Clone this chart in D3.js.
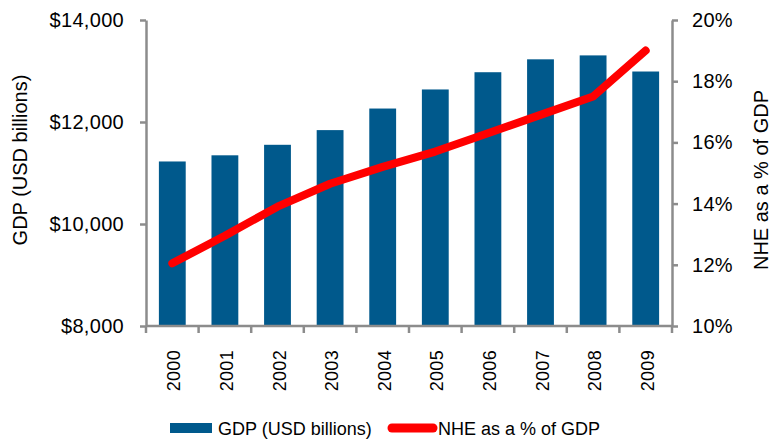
<!DOCTYPE html>
<html>
<head>
<meta charset="utf-8">
<script src="https://cdn.jsdelivr.net/npm/d3@7"></script>
<style>
  body { margin: 0; background: #fff; }
  text { font-family: "Liberation Sans", Arial, sans-serif; fill: #000; }
</style>
</head>
<body>
<svg id="chart" width="773" height="439"></svg>
<script>
// chart data
var years = ["2000", "2001", "2002", "2003", "2004", "2005", "2006", "2007", "2008", "2009"];
var gdp = [11226, 11347, 11553, 11841, 12264, 12638, 12976, 13229, 13306, 12990];
var nhePct = [12.05, 12.95, 13.9, 14.65, 15.2, 15.7, 16.3, 16.9, 17.5, 19.0];
var gdpTicks = [8000, 10000, 12000, 14000];
var pctTicks = [10, 12, 14, 16, 18, 20];
var legendLabels = ["GDP (USD billions)", "NHE as a % of GDP"];

var svg = d3.select("#chart"),
  margin = {top: 20, right: 101, bottom: 113, left: 146},
  width = +svg.attr("width") - margin.left - margin.right,
  height = +svg.attr("height") - margin.top - margin.bottom,
  g = svg.append("g").attr("transform", "translate(" + margin.left + "," + margin.top + ")");

var axisColor = "#8c8c8c",
  barColor = "#00598c",
  lineColor = "#ff0000";

var x = d3.scaleBand()
  .domain(years)
  .range([0, width])
  .paddingInner(0.49)
  .paddingOuter(0.245);

var y = d3.scaleLinear().domain([8000, 14000]).range([height, 0]);
var y2 = d3.scaleLinear().domain([10, 20]).range([height, 0]);

var data = years.map(function(d, i) { return {year: d, gdp: gdp[i], pct: nhePct[i]}; });

// bars
g.selectAll(".bar")
  .data(data)
  .enter().append("rect")
  .attr("class", "bar")
  .attr("x", function(d) { return x(d.year); })
  .attr("y", function(d) { return y(d.gdp); })
  .attr("width", x.bandwidth())
  .attr("height", function(d) { return height - y(d.gdp); })
  .attr("fill", barColor);

// left axis
var left = g.append("g")
  .call(d3.axisLeft(y)
    .tickValues(gdpTicks)
    .tickFormat(function(d) { return "$" + d3.format(",")(d); })
    .tickSizeInner(6).tickSizeOuter(0)
    .tickPadding(16));

// right axis
var right = g.append("g")
  .attr("transform", "translate(" + width + ",0)")
  .call(d3.axisRight(y2)
    .tickValues(pctTicks)
    .tickFormat(function(d) { return d + "%"; })
    .tickSizeInner(6).tickSizeOuter(0)
    .tickPadding(14));

// bottom axis, ticks sit between the categories
var bottom = g.append("g")
  .attr("transform", "translate(0," + height + ")");
bottom.append("line")
  .attr("x1", 0).attr("x2", width)
  .attr("stroke", axisColor).attr("stroke-width", 2.5);
bottom.selectAll(".sep")
  .data(d3.range(years.length + 1))
  .enter().append("line")
  .attr("class", "sep")
  .attr("x1", function(i) { return i * x.step(); })
  .attr("x2", function(i) { return i * x.step(); })
  .attr("y1", 0).attr("y2", 7)
  .attr("stroke", axisColor).attr("stroke-width", 2.5);
bottom.selectAll(".lbl")
  .data(years)
  .enter().append("text")
  .attr("class", "lbl")
  .attr("transform", function(d) {
    return "translate(" + (x(d) + x.bandwidth() / 2 + 8) + ",24) rotate(-90)";
  })
  .attr("text-anchor", "end")
  .style("font-size", "18px")
  .style("letter-spacing", "0.3px")
  .text(function(d) { return d; });

[left, right].forEach(function(a) {
  a.select(".domain").attr("stroke", axisColor).attr("stroke-width", 2.5);
  a.selectAll(".tick line").attr("stroke", axisColor).attr("stroke-width", 2.5);
  a.selectAll(".tick text")
    .style("font-size", "20px")
    .style("letter-spacing", "0.3px")
    .attr("fill", "#000");
});

// NHE line
var line = d3.line()
  .x(function(d) { return x(d.year) + x.bandwidth() / 2; })
  .y(function(d) { return y2(d.pct); });

g.append("path")
  .datum(data)
  .attr("d", line)
  .attr("fill", "none")
  .attr("stroke", lineColor)
  .attr("stroke-width", 8)
  .attr("stroke-linecap", "round")
  .attr("stroke-linejoin", "round");

// axis titles
svg.append("text")
  .attr("transform", "translate(27," + (margin.top + 140) + ") rotate(-90)")
  .attr("text-anchor", "middle")
  .style("font-size", "20px")
  .text("GDP (USD billions)");

svg.append("text")
  .attr("transform", "translate(768," + (margin.top + 160) + ") rotate(-90)")
  .attr("text-anchor", "middle")
  .style("font-size", "20px")
  .text("NHE as a % of GDP");

// legend
var legend = svg.append("g").attr("transform", "translate(170,428)");
legend.append("rect")
  .attr("x", 0).attr("y", -5)
  .attr("width", 42).attr("height", 10)
  .attr("fill", barColor);
legend.append("text")
  .attr("x", 48).attr("y", 6.5)
  .style("font-size", "18px")
  .text(legendLabels[0]);
legend.append("line")
  .attr("x1", 222).attr("x2", 263)
  .attr("stroke", lineColor)
  .attr("stroke-width", 9)
  .attr("stroke-linecap", "round");
legend.append("text")
  .attr("x", 268).attr("y", 6.5)
  .style("font-size", "18px")
  .text(legendLabels[1]);
</script>
</body>
</html>
